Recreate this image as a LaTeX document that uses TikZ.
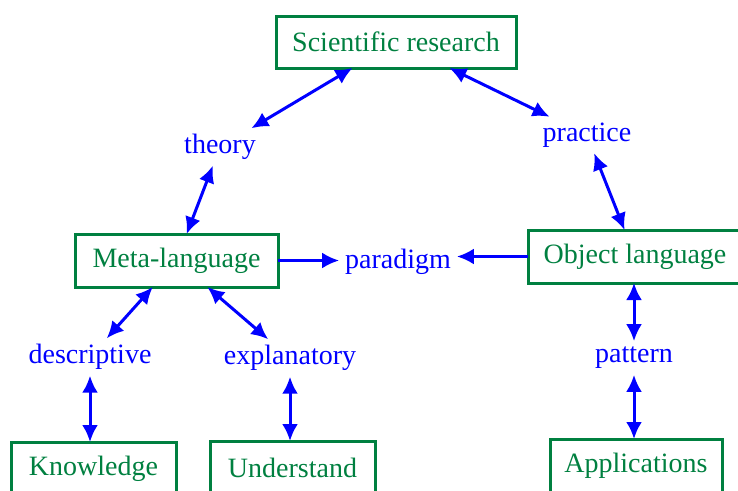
\documentclass[tikz,border=0pt]{standalone}
\usepackage{fontspec}
\setmainfont{Liberation Serif}
\usetikzlibrary{arrows.meta}
\definecolor{boxgreen}{RGB}{0,128,64}
\definecolor{arrblue}{RGB}{0,0,255}
\begin{document}
\begin{tikzpicture}[x=1pt,y=-1pt,
  box/.style={draw=boxgreen,line width=3pt,text=boxgreen,font=\fontsize{28}{30}\selectfont,inner sep=0pt,outer sep=0pt},
  lbl/.style={text=arrblue,font=\fontsize{28}{30}\selectfont,inner sep=6pt,outer sep=0pt},
  tip/.tip={Latex[length=17pt,width=16pt]},
  con/.style={arrblue,line width=3pt,tip-tip},
  one/.style={arrblue,line width=3pt,-tip}]
\useasboundingbox (0,0) rectangle (738,490);
\clip (0,0) rectangle (738,490);
% boxes
\node[box,minimum width=240pt,minimum height=52pt] (sr) at (396,42) {Scientific research};
\node[box,minimum width=203pt,minimum height=53pt] (meta) at (176.5,260.5) {Meta-language};
\node[box,minimum width=214pt,minimum height=53pt] (obj) at (635,256.5) {Object language};
\node[box,minimum width=165pt,minimum height=54pt] (know) at (93.5,469) {Knowledge};
\node[box,minimum width=165pt,minimum height=54pt] (und) at (292.5,468) {Understand};
\node[box,minimum width=172pt,minimum height=54pt] (app) at (636,466) {Applications};
% labels
\node[lbl] (theory) at (220,147) {theory};
\node[lbl] (practice) at (587,135) {practice};
\node[lbl] (paradigm) at (398,262) {paradigm};
\node[lbl] (desc) at (90,357) {descriptive};
\node[lbl] (expl) at (290,358) {explanatory};
\node[lbl] (pattern) at (634,358) {pattern};
% connectors
\draw[con] (sr) -- (theory);
\draw[con] (sr) -- (practice);
\draw[con] (theory) -- (meta);
\draw[con] (practice) -- (obj);
\draw[con] (meta) -- (desc);
\draw[con] (meta) -- (expl);
\draw[con] (pattern.north) -- (pattern.north |- obj.south);
\draw[con] (desc.south) -- (desc.south |- know.north);
\draw[con] (expl.south) -- (expl.south |- und.north);
\draw[con] (pattern.south) -- (pattern.south |- app.north);
\draw[one] (meta.east) -- (meta.east -| paradigm.west);
\draw[one] (obj.west) -- (obj.west -| paradigm.east);
\end{tikzpicture}
\end{document}
